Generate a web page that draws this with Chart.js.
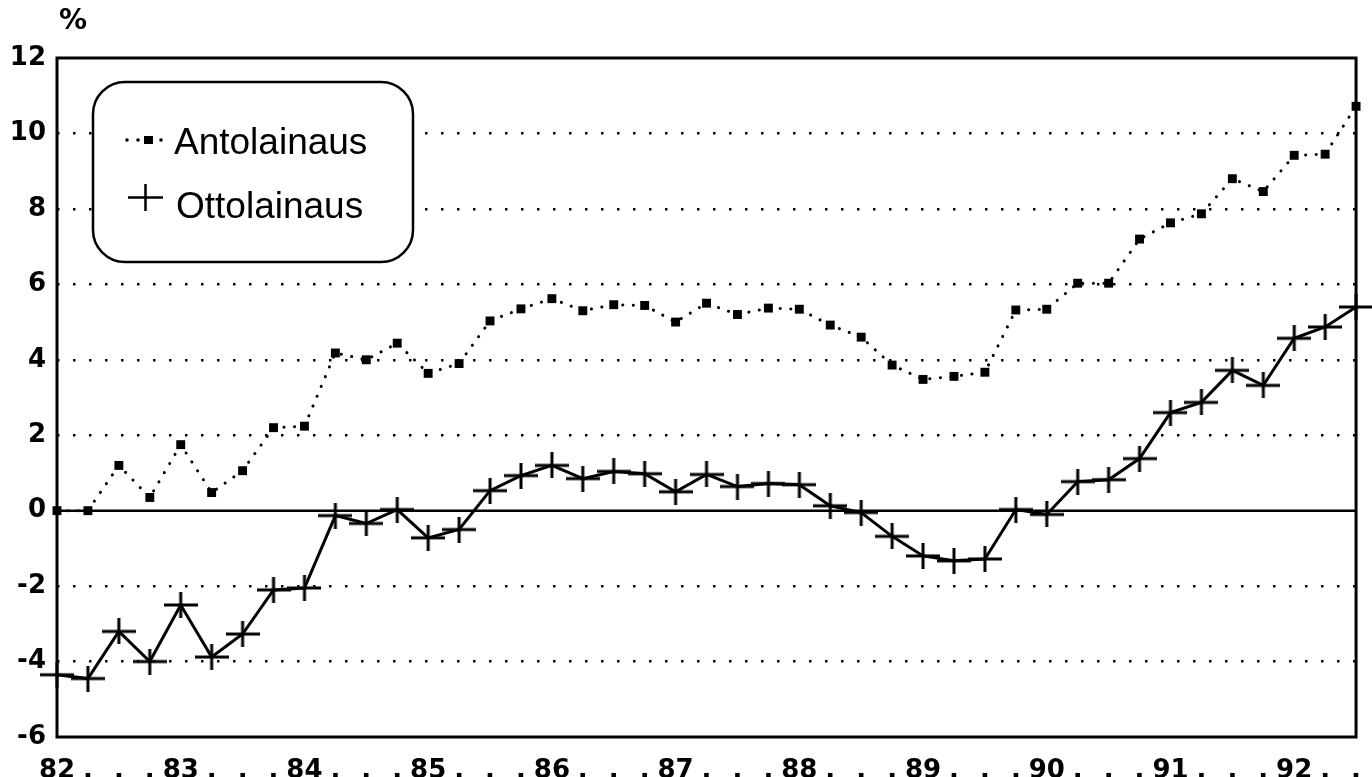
<!DOCTYPE html>
<html>
<head>
<meta charset="utf-8">
<script src="https://cdn.jsdelivr.net/npm/chart.js@4/dist/chart.umd.min.js"></script>
<style>
  body { margin: 0; background: #fff; }
  canvas { display: block; }
</style>
</head>
<body>
<canvas id="myChart" width="1372" height="777"></canvas>
<script>
// quarterly data 1982 Q1 .. 1992 Q3
var years = ["82", "83", "84", "85", "86", "87", "88", "89", "90", "91", "92"];
var antolainaus = [0, 0, 1.2, 0.35, 1.75, 0.48, 1.06, 2.2, 2.24, 4.18, 4.0, 4.44, 3.64, 3.9,
    5.03, 5.35, 5.62, 5.3, 5.46, 5.44, 5.0, 5.5, 5.2, 5.37, 5.34, 4.92, 4.6, 3.86, 3.48, 3.56,
    3.67, 5.32, 5.34, 6.03, 6.03, 7.2, 7.63, 7.87, 8.8, 8.46, 9.42, 9.45, 10.72];
var ottolainaus = [-4.35, -4.45, -3.2, -4.0, -2.5, -3.88, -3.27, -2.1, -2.05, -0.13, -0.34, 0.03,
    -0.72, -0.5, 0.53, 0.93, 1.2, 0.85, 1.04, 0.98, 0.5, 0.96, 0.64, 0.72, 0.69, 0.13, -0.05,
    -0.68, -1.2, -1.33, -1.28, 0.03, -0.1, 0.77, 0.82, 1.38, 2.6, 2.87, 3.72, 3.32, 4.57, 4.87, 5.4];

// year label on Q1, a dot on the other quarters
var labels = [];
years.forEach(function (y) {
    labels.push(y);
    for (var q = 1; q < 4; q++) labels.push(".");
});
labels = labels.slice(0, antolainaus.length);

var tickFont = { family: "'DejaVu Sans', sans-serif", size: 26, weight: "bold" };

// plus marker, wider than tall like in the print
function makePlus(w, h, lw) {
    var c = document.createElement("canvas");
    c.width = w; c.height = h;
    var g = c.getContext("2d");
    g.strokeStyle = "#000";
    g.lineWidth = lw;
    g.beginPath();
    g.moveTo(0, h / 2); g.lineTo(w, h / 2);
    g.moveTo(w / 2, 0); g.lineTo(w / 2, h);
    g.stroke();
    return c;
}
var plus = makePlus(34, 26, 3);

var framePlugin = {
    id: "frame",
    beforeDatasetsDraw: function (chart) {
        var a = chart.chartArea, c = chart.ctx;
        var y0 = chart.scales.y.getPixelForValue(0);
        c.save();
        c.strokeStyle = "#000";
        c.lineWidth = 2.5;
        c.beginPath();
        c.moveTo(a.left, y0); c.lineTo(a.right, y0);
        c.stroke();
        c.restore();
    },
    afterDraw: function (chart) {
        var a = chart.chartArea, c = chart.ctx;
        c.save();
        c.strokeStyle = "#000";
        c.lineWidth = 3;
        c.strokeRect(a.left, a.top, a.right - a.left, a.bottom - a.top);

        // unit
        c.fillStyle = "#000";
        c.font = "bold 28px 'DejaVu Sans'";
        c.textAlign = "center";
        c.textBaseline = "middle";
        c.fillText("%", 73, 22);

        // legend box
        var bx = 93, by = 82, bw = 320, bh = 180, r = 32;
        c.fillStyle = "#fff";
        c.lineWidth = 2.5;
        c.beginPath();
        c.roundRect(bx, by, bw, bh, r);
        c.fill();
        c.stroke();

        var ds = chart.data.datasets;
        c.fillStyle = "#000";
        // dotted line with square
        [127, 138, 161].forEach(function (x) {
            c.beginPath(); c.arc(x, 140, 1.8, 0, Math.PI * 2); c.fill();
        });
        c.fillRect(144, 136, 9, 8);
        // plus
        c.drawImage(makePlus(35, 27, 2.5), 128, 184);

        c.font = "37px 'Liberation Sans', Arial, sans-serif";
        c.textAlign = "left";
        c.textBaseline = "alphabetic";
        c.fillText(ds[0].label, 174, 154);
        c.fillText(ds[1].label, 176, 218);
        c.restore();
    }
};

var ctx = document.getElementById("myChart").getContext("2d");
var myChart = new Chart(ctx, {
    type: "line",
    data: {
        labels: labels,
        datasets: [{
            label: "Antolainaus",
            data: antolainaus,
            borderColor: "#000",
            backgroundColor: "#000",
            borderWidth: 3,
            borderDash: [0.1, 10.5],
            borderCapStyle: "round",
            pointStyle: "rect",
            pointRadius: 6.3,
            pointBorderWidth: 0,
            tension: 0,
            clip: false
        }, {
            label: "Ottolainaus",
            data: ottolainaus,
            borderColor: "#000",
            backgroundColor: "#000",
            borderWidth: 3,
            pointStyle: plus,
            tension: 0,
            clip: false
        }]
    },
    options: {
        responsive: false,
        devicePixelRatio: 1,
        animation: false,
        layout: { padding: { top: 58, right: 12, left: 0, bottom: 0 } },
        plugins: {
            legend: { display: false },
            tooltip: { enabled: false }
        },
        scales: {
            x: {
                grid: { display: false },
                border: { display: false },
                ticks: {
                    autoSkip: false,
                    maxRotation: 0,
                    padding: 11,
                    color: "#000",
                    font: tickFont
                },
                afterFit: function (s) { s.height = 40; }
            },
            y: {
                min: -6,
                max: 12,
                grid: {
                    drawTicks: false,
                    lineWidth: 2.5,
                    color: function (c) {
                        var v = c.tick ? c.tick.value : null;
                        return (v === 0 || v === 12 || v === -6) ? "rgba(0,0,0,0)" : "#000";
                    }
                },
                border: { display: false, dash: [2.5, 13.5] },
                ticks: {
                    stepSize: 2,
                    padding: 11,
                    color: "#000",
                    font: tickFont
                },
                afterFit: function (s) { s.width = 57; }
            }
        }
    },
    plugins: [framePlugin]
});
</script>
</body>
</html>
